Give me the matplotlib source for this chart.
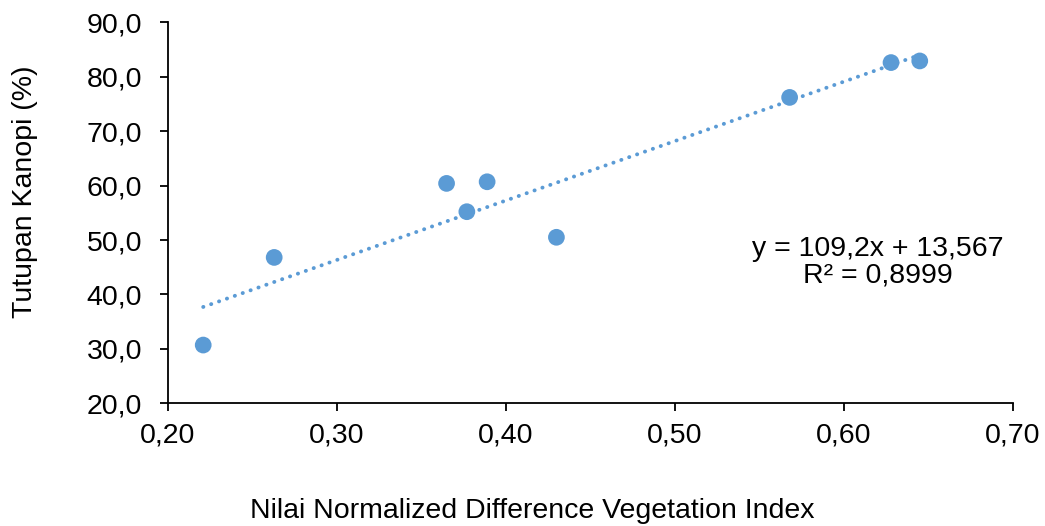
"""Scatter of canopy cover vs NDVI with linear trendline"""

import numpy as np
import matplotlib.pyplot as plt

# Data
ndvi = [0.221, 0.263, 0.365, 0.377, 0.389, 0.430, 0.568, 0.628, 0.645]
kanopi = [30.7, 46.8, 60.4, 55.2, 60.7, 50.5, 76.2, 82.6, 82.9]

slope = 109.2
intercept = 13.567
r2_text = "0,8999"

x_ticks = [0.20, 0.30, 0.40, 0.50, 0.60, 0.70]
y_ticks = [20, 30, 40, 50, 60, 70, 80, 90]

plt.rcParams['font.family'] = ['Liberation Sans', 'DejaVu Sans']
blue = '#5B9BD5'
fs = 20.5

fig = plt.figure(figsize=(10.45, 5.26), dpi=100)
ax = fig.add_axes([0.1605, 0.2333, 0.8086, 0.7243])

# Trendline over the range of the data
xt = np.array([min(ndvi), max(ndvi)])
ax.plot(xt, slope * xt + intercept, color=blue, lw=2.8,
        linestyle=(0, (0.05, 2.1)), dash_capstyle='round', zorder=2)

# Points
ax.scatter(ndvi, kanopi, s=145, color=blue, edgecolors='none', zorder=3)

ax.set_xlim(0.20, 0.70)
ax.set_ylim(20, 90)
ax.set_xticks(x_ticks)
ax.set_yticks(y_ticks)
ax.set_xticklabels([f"{v:.2f}".replace('.', ',') for v in x_ticks])
ax.set_yticklabels([f"{v:.1f}".replace('.', ',') for v in y_ticks])

for s in ['top', 'right']:
    ax.spines[s].set_visible(False)
for s in ['left', 'bottom']:
    ax.spines[s].set_linewidth(1.3)
    ax.spines[s].set_color('black')
ax.tick_params(axis='both', direction='out', length=5.5, width=1.3,
               labelsize=fs, colors='black')
ax.tick_params(axis='y', pad=13)
ax.tick_params(axis='x', pad=8)

# Equation label
ax.text(0.62, 45.9, f"y = {str(slope).replace('.', ',')}x + {str(intercept).replace('.', ',')}\nR² = {r2_text}",
        ha='center', va='center', multialignment='center', fontsize=fs,
        linespacing=1.0, color='black')

# Axis titles
fig.text(532 / 1045, 1 - 511 / 526, "Nilai Normalized Difference Vegetation Index",
         ha='center', va='center', fontsize=fs)
fig.text(25 / 1045, 1 - 192 / 526, "Tutupan Kanopi (%)", rotation=90,
         ha='center', va='center', fontsize=fs)

plt.savefig("out.png", dpi=100)
